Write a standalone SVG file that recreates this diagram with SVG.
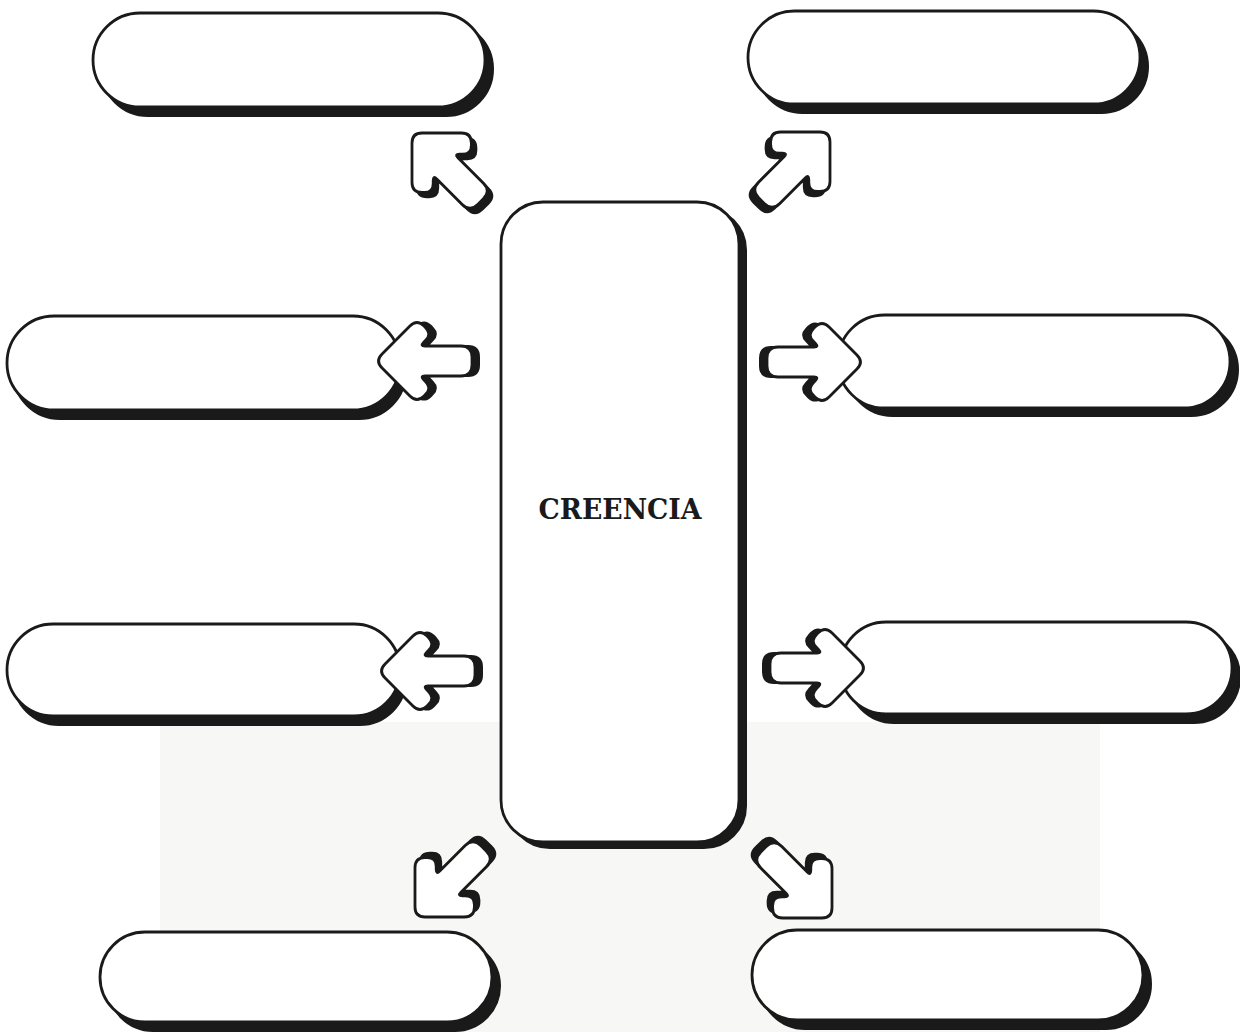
<svg xmlns="http://www.w3.org/2000/svg" xmlns:xlink="http://www.w3.org/1999/xlink" width="1240" height="1032" viewBox="0 0 1240 1032">
  <style>
    .bg { fill: #ffffff; }
    .tone { fill: #f7f7f5; }
    .sh { fill: #1a1a1a; stroke: #1a1a1a; stroke-width: 2; }
    .box { fill: #ffffff; stroke: #1a1a1a; stroke-width: 2.8; }
    .lbl { font-family: "DejaVu Serif", "Liberation Serif", serif; font-size: 27px; font-weight: bold; fill: #1a1a1a; text-anchor: middle; }
  </style>
  <defs>
    <path id="arr" d="M -7.07,-7.07 L -34.93,-34.93 Q -42,-42 -49.07,-34.93 L -50.64,-33.36 Q -57,-27 -50.64,-20.64 L -48.54,-18.54 Q -45,-15 -50,-15 L -86,-15 Q -97,-15 -97,-4 L -97,4 Q -97,15 -86,15 L -50,15 Q -45,15 -48.54,18.54 L -50.64,20.64 Q -57,27 -50.64,33.36 L -49.07,34.93 Q -42,42 -34.93,34.93 L -7.07,7.07 Q 0,0 -7.07,-7.07 Z"/>
  </defs>
  <rect class="bg" x="0" y="0" width="1240" height="1032"/>
  <rect class="tone" x="160" y="722" width="940" height="310"/>

  <g id="pill-top-left">
    <rect class="sh" x="101" y="22" width="392" height="94" rx="47"/>
    <rect class="box" x="93" y="13" width="392" height="94" rx="47"/>
  </g>
  <g id="pill-top-right">
    <rect class="sh" x="756" y="20" width="392" height="93" rx="46.5"/>
    <rect class="box" x="748" y="11" width="392" height="93" rx="46.5"/>
  </g>
  <g id="pill-mid-left">
    <rect class="sh" x="13" y="325" width="393" height="94" rx="47"/>
    <rect class="box" x="7" y="316" width="393" height="94" rx="47"/>
  </g>
  <g id="pill-mid-right">
    <rect class="sh" x="846" y="323" width="392" height="93" rx="46.5"/>
    <rect class="box" x="838" y="315" width="392" height="93" rx="46.5"/>
  </g>
  <g id="pill-low-left">
    <rect class="sh" x="13" y="633" width="393" height="92" rx="46"/>
    <rect class="box" x="7" y="624" width="393" height="92" rx="46"/>
  </g>
  <g id="pill-low-right">
    <rect class="sh" x="848" y="631" width="392" height="92" rx="46"/>
    <rect class="box" x="840" y="622" width="392" height="92" rx="46"/>
  </g>
  <g id="pill-bottom-left">
    <rect class="sh" x="108" y="941" width="392" height="90" rx="45"/>
    <rect class="box" x="100" y="932" width="392" height="90" rx="45"/>
  </g>
  <g id="pill-bottom-right">
    <rect class="sh" x="760" y="939" width="391" height="90" rx="45"/>
    <rect class="box" x="752" y="930" width="391" height="90" rx="45"/>
  </g>

  <g id="center-creencia">
    <rect class="sh" x="508" y="208" width="238" height="640" rx="42"/>
    <rect class="box" x="501" y="202" width="238" height="640" rx="42"/>
    <text class="lbl" x="620" y="519" textLength="163" lengthAdjust="spacingAndGlyphs">CREENCIA</text>
  </g>

  <g id="connectors">
    <g transform="translate(412,133) rotate(225)">
      <use xlink:href="#arr" class="sh" transform="translate(-7,0)"/>
      <use xlink:href="#arr" class="box"/>
    </g>
    <g transform="translate(830,132) rotate(-45)">
      <use xlink:href="#arr" class="sh" transform="translate(-7,0)"/>
      <use xlink:href="#arr" class="box"/>
    </g>
    <g transform="translate(375,361) rotate(180)">
      <use xlink:href="#arr" class="sh" transform="translate(-7,0)"/>
      <use xlink:href="#arr" class="box"/>
    </g>
    <g transform="translate(864,362)">
      <use xlink:href="#arr" class="sh" transform="translate(-7,0)"/>
      <use xlink:href="#arr" class="box"/>
    </g>
    <g transform="translate(378,671) rotate(180)">
      <use xlink:href="#arr" class="sh" transform="translate(-7,0)"/>
      <use xlink:href="#arr" class="box"/>
    </g>
    <g transform="translate(867,668)">
      <use xlink:href="#arr" class="sh" transform="translate(-7,0)"/>
      <use xlink:href="#arr" class="box"/>
    </g>
    <g transform="translate(415,917) rotate(135)">
      <use xlink:href="#arr" class="sh" transform="translate(-7,0)"/>
      <use xlink:href="#arr" class="box"/>
    </g>
    <g transform="translate(832,918) rotate(45)">
      <use xlink:href="#arr" class="sh" transform="translate(-7,0)"/>
      <use xlink:href="#arr" class="box"/>
    </g>
  </g>
</svg>
